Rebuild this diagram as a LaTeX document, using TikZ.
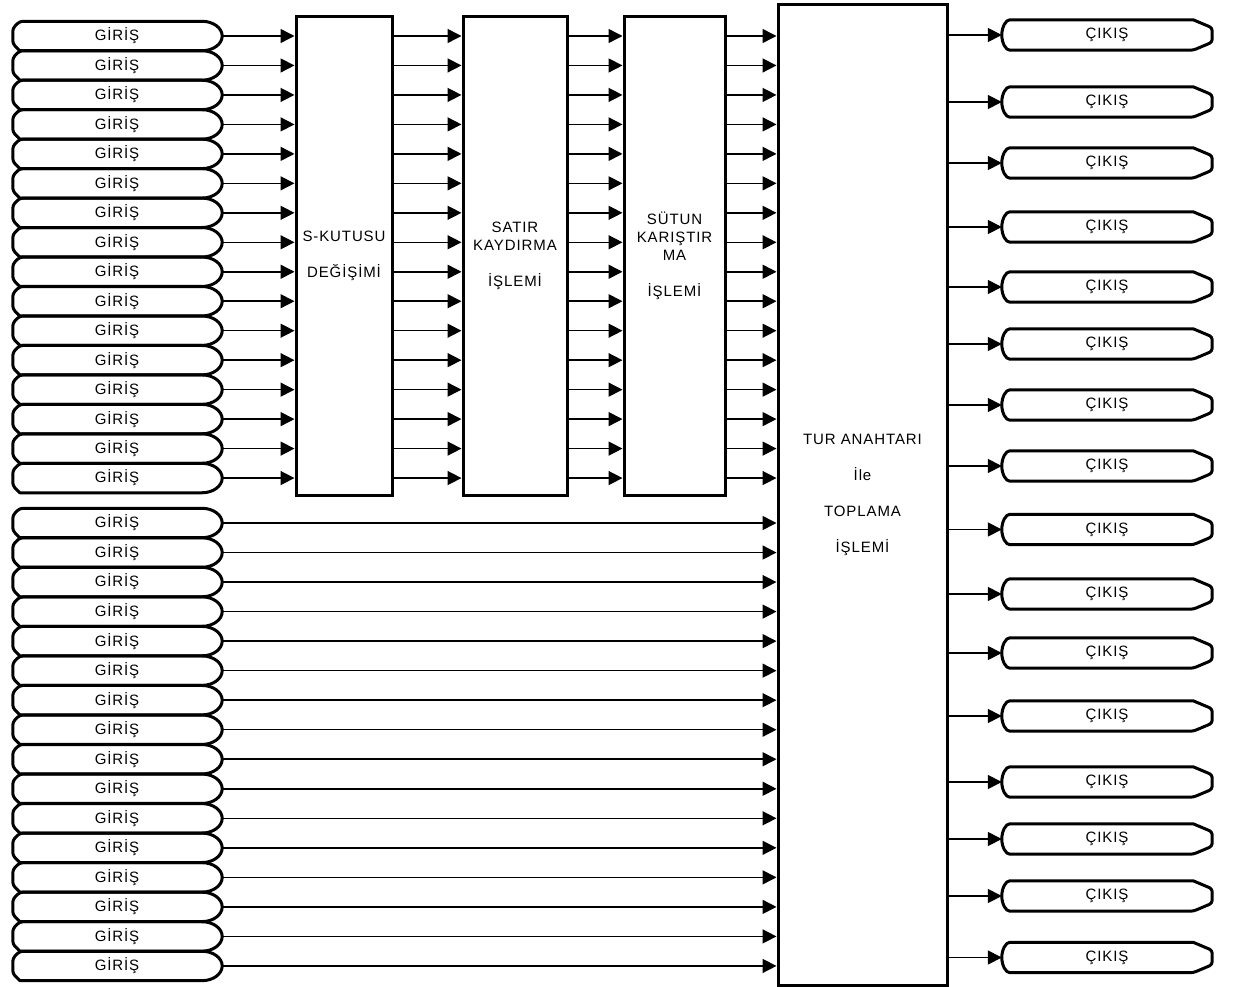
\documentclass[tikz,border=0pt]{standalone}
\usepackage{fontspec}
\setmainfont{Liberation Sans}[LetterSpace=6]
\usetikzlibrary{arrows.meta,calc}
\begin{document}
\begin{tikzpicture}[x=1pt,y=-1pt,
  lbl/.style={font=\fontsize{15}{18}\selectfont},
  io/.style={lbl, minimum width=210pt, minimum height=29pt, inner sep=0pt},
  ob/.style={lbl, minimum width=210pt, minimum height=30pt, inner sep=0pt},
  blk/.style={draw, line width=3pt, lbl, align=center, inner sep=0pt},
  conn/.style={line width=1.5pt, -{Triangle[length=14pt,width=14pt]}},
  outline/.style={line width=3pt, line join=round}
]
\useasboundingbox[fill=white] (0,0) rectangle (1239,987);

% blocks
\node[blk, minimum width=96pt, minimum height=478pt] (sbox) at (344,256) {S-KUTUSU\\[18pt]DEĞİŞİMİ};
\node[blk, minimum width=104pt, minimum height=478pt] (shift) at (515,256) {SATIR\\KAYDIRMA\\[18pt]İŞLEMİ};
\node[blk, minimum width=101pt, minimum height=478pt] (mix) at (674.5,256) {SÜTUN\\KARIŞTIR\\MA\\[18pt]İŞLEMİ};
\node[blk, minimum width=169pt, minimum height=980pt] (key) at (862.5,495) {TUR ANAHTARI\\[18pt]İle\\[18pt]TOPLAMA\\[18pt]İŞLEMİ};

% inputs
\foreach \i in {1,...,32} {
  \pgfmathsetmacro{\yy}{\i<17 ? 36+(\i-1)*29.47 : 523+(\i-17)*29.53}
  \node[io] (in\i) at (117,\yy) {GİRİŞ};
  \draw[outline] ([xshift=-20pt]in\i.south east) -- ([xshift=8pt]in\i.south west)
    [rounded corners=3pt] -- ([xshift=1pt,yshift=7pt]in\i.south west)
    -- ([xshift=1pt,yshift=-7pt]in\i.north west)
    -- ([xshift=8pt]in\i.north west) [sharp corners]
    -- ([xshift=-20pt]in\i.north east)
    .. controls ([xshift=-9pt]in\i.north east) and ([yshift=8pt]in\i.east) .. (in\i.east)
    .. controls ([yshift=-8pt]in\i.east) and ([xshift=-9pt]in\i.south east) .. cycle;
}

% top group connectors
\foreach \i in {1,...,16} {
  \draw[conn] (in\i.east) -- (in\i -| sbox.west);
  \draw[conn] (in\i -| sbox.east) -- (in\i -| shift.west);
  \draw[conn] (in\i -| shift.east) -- (in\i -| mix.west);
  \draw[conn] (in\i -| mix.east) -- (in\i -| key.west);
}
% bottom group connectors
\foreach \i in {17,...,32} {
  \draw[conn] (in\i.east) -- (in\i -| key.west);
}

% outputs
\foreach \yy [count=\j] in {35,102,163,227,287,344,405,466,529.5,594,653,716,782,839,896,957.5} {
  \node[ob] (out\j) at (1107,\yy) {ÇIKIŞ};
  \draw[outline] ([xshift=8pt]out\j.north west) -- ([xshift=-19pt]out\j.north east)
    [rounded corners=3pt] -- ([yshift=-8pt]out\j.north east)
    -- ([yshift=8pt]out\j.south east)
    -- ([xshift=-19pt]out\j.south east) [sharp corners]
    -- ([xshift=8pt]out\j.south west)
    .. controls ([xshift=4pt]out\j.south west) and ([yshift=-8pt]out\j.west) .. (out\j.west)
    .. controls ([yshift=8pt]out\j.west) and ([xshift=4pt]out\j.north west) .. cycle;
  \draw[conn] (out\j -| key.east) -- (out\j.west);
}
\end{tikzpicture}
\end{document}
